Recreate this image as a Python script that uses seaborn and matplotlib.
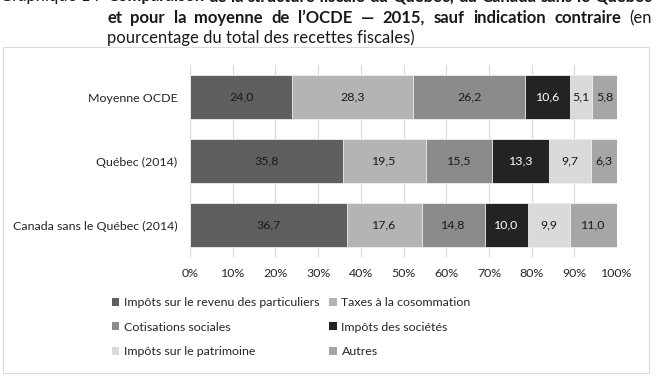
import numpy as np
import pandas as pd
import matplotlib
matplotlib.use("Agg")
import matplotlib.pyplot as plt
from matplotlib.patches import Patch, Rectangle
import seaborn as sns

# Data (pourcentage du total des recettes fiscales)
regions = ["Moyenne OCDE", "Québec (2014)", "Canada sans le Québec (2014)"]
series = ["Impôts sur le revenu des particuliers", "Taxes à la cosommation",
          "Cotisations sociales", "Impôts des sociétés",
          "Impôts sur le patrimoine", "Autres"]
revenu = [24.0, 35.8, 36.7]
consommation = [28.3, 19.5, 17.6]
cotisations = [26.2, 15.5, 14.8]
societes = [10.6, 13.3, 10.0]
patrimoine = [5.1, 9.7, 9.9]
autres = [5.8, 6.3, 11.0]

colors = ["#5f5f5f", "#b4b4b4", "#8b8b8b", "#232323", "#dadada", "#a6a6a6"]
label_colors = ["#1a1a1a", "#1a1a1a", "#1a1a1a", "white", "#1a1a1a", "#1a1a1a"]

df = pd.DataFrame({"region": regions})
for name, vals in zip(series, [revenu, consommation, cotisations, societes, patrimoine, autres]):
    df[name] = vals
cum = df[series].cumsum(axis=1)

sns.set_theme(style="white")
plt.rcParams["font.family"] = ["Lato", "DejaVu Sans"]

W, H = 657, 377
fs = 8.9
fig = plt.figure(figsize=(W / 100, H / 100), dpi=100)
ax = fig.add_axes([190 / W, 1 - 257 / H, 427 / W, 192 / H])

# stacked bars: draw cumulative totals from the last series to the first
for i in range(len(series) - 1, -1, -1):
    sns.barplot(x=cum[series[i]], y=df["region"], orient="h", color=colors[i],
                width=0.69, edgecolor="#f0f0f0", linewidth=0.6, ax=ax, zorder=2)

for i, name in enumerate(series):
    for j in range(len(regions)):
        v = df[name][j]
        xc = cum[name][j] - v / 2
        ax.text(xc, j, f"{v:.1f}".replace(".", ","), ha="center", va="center",
                fontsize=fs, color=label_colors[i], zorder=3)

ax.set_xlim(0, 100)
ax.set_ylim(2.5, -0.5)
ax.set_xticks(np.arange(0, 101, 10))
ax.set_xticklabels([f"{t}%" for t in range(0, 101, 10)])
ax.xaxis.grid(True, color="#d9d9d9", linewidth=0.8, zorder=0)
ax.set_axisbelow(True)
for s in ax.spines.values():
    s.set_visible(False)
ax.set_xlabel("")
ax.set_ylabel("")
ax.tick_params(axis="both", length=0, labelsize=fs, colors="#262626", pad=8)
ax.tick_params(axis="y", pad=9)

# legend (row-wise order in two columns)
handles = [Patch(facecolor=c, edgecolor="none") for c in colors]
order = [0, 2, 4, 1, 3, 5]
fig.legend([handles[k] for k in order], [series[k] for k in order], ncol=2,
           loc="upper left", bbox_to_anchor=(112 / W, 1 - 297 / H), frameon=False,
           fontsize=fs, handlelength=0.6, handleheight=0.6, handletextpad=0.4,
           columnspacing=0.75, labelspacing=1.1, borderaxespad=0, borderpad=0,
           labelcolor="#262626")

# outer frame
fig.patches.append(Rectangle((3 / W, 1 - 373 / H), 646 / W, 326 / H,
                             transform=fig.transFigure, fill=False,
                             edgecolor="#dcdcdc", linewidth=0.8))

# title, justified lines
renderer = fig.canvas.get_renderer()
tsize = 12


def justify(words, x0, x1, ybase):
    objs = []
    for w, bold in words:
        t = fig.text(0, 1 - ybase / H, w, fontsize=tsize, va="baseline", ha="left",
                     fontweight="bold" if bold else "normal", color="#1a1a1a")
        objs.append(t)
    widths = [o.get_window_extent(renderer).width for o in objs]
    gap = (x1 - x0 - sum(widths)) / (len(objs) - 1)
    x = x0
    for o, w in zip(objs, widths):
        o.set_x(x / W)
        x += w + gap


fig.text(0, 1 - 1.5 / H, "Graphique 1 :", fontsize=tsize, va="baseline", color="#1a1a1a")
line1 = "Comparaison de la structure fiscale du Québec, du Canada sans le Québec".split()
justify([(w, True) for w in line1], 107, 652, 1.5)
line2 = "et pour la moyenne de l’OCDE — 2015, sauf indication contraire".split()
justify([(w, True) for w in line2] + [("(en", False)], 107, 652, 23)
fig.text(107 / W, 1 - 43 / H, "pourcentage du total des recettes fiscales)",
         fontsize=tsize, va="baseline", color="#1a1a1a")

fig.savefig("out.png", dpi=100)
